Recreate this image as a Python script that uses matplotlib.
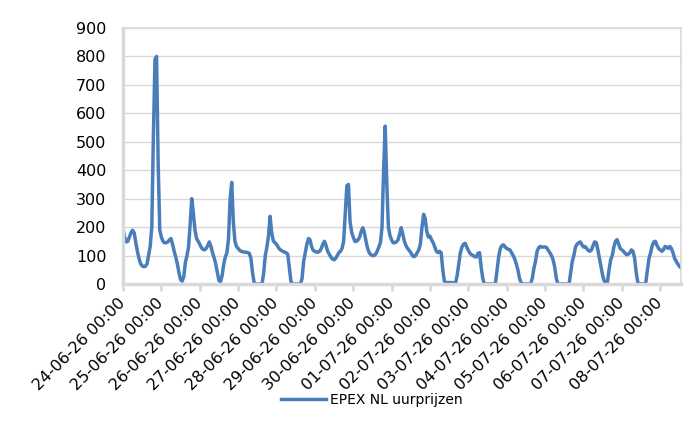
import numpy as np
import matplotlib
matplotlib.use("Agg")
import matplotlib.pyplot as plt

plt.rcParams['font.family'] = ['DejaVu Sans']

# hourly EPEX NL prices, one list per day (00:00 .. 23:00)
d_24_06 = [195, 165, 148, 150, 165, 180, 189, 180, 145, 115, 90, 72,
           63, 61, 62, 70, 100, 132, 200, 520, 790, 800, 420, 190]
d_25_06 = [165, 150, 145, 145, 148, 155, 160, 140, 115, 95, 70, 40,
           15, 10, 25, 75, 100, 130, 210, 300, 250, 190, 160, 150]
d_26_06 = [140, 128, 122, 120, 125, 135, 148, 132, 110, 92, 70, 40,
           12, 8, 30, 70, 95, 110, 160, 300, 357, 220, 150, 132]
d_27_06 = [125, 118, 115, 113, 112, 112, 110, 108, 90, 40, 5, 0,
           0, 0, 0, 0, 40, 100, 130, 170, 238, 180, 152, 145]
d_28_06 = [140, 130, 122, 118, 115, 112, 110, 105, 60, 10, 0, 0,
           0, 0, 0, 0, 20, 80, 110, 140, 160, 155, 130, 118]
d_29_06 = [115, 112, 112, 115, 125, 140, 150, 135, 115, 105, 95, 88,
           85, 90, 100, 110, 115, 125, 150, 250, 345, 350, 220, 182]
d_30_06 = [165, 150, 150, 155, 165, 185, 198, 180, 150, 125, 110, 103,
           100, 100, 105, 115, 130, 145, 200, 400, 555, 350, 200, 170]
d_01_07 = [155, 145, 145, 148, 155, 175, 198, 175, 150, 135, 125, 118,
           110, 100, 96, 100, 110, 120, 140, 200, 245, 230, 185, 165]
d_02_07 = [168, 155, 145, 130, 115, 110, 115, 110, 50, 10, 5, 5,
           5, 5, 5, 3, 3, 30, 70, 110, 130, 140, 143, 130]
d_03_07 = [118, 108, 103, 100, 96, 95, 108, 110, 60, 20, 0, 0,
           0, 0, 0, 0, 0, 5, 50, 97, 125, 135, 138, 130]
d_04_07 = [125, 122, 120, 110, 100, 88, 70, 50, 20, 5, 0, 0,
           0, 0, 0, 0, 20, 55, 80, 115, 128, 132, 130, 130]
d_05_07 = [130, 128, 118, 110, 100, 85, 60, 20, 0, 0, 0, 0,
           0, 0, 0, 0, 40, 80, 100, 130, 140, 145, 148, 138]
d_06_07 = [130, 132, 125, 118, 115, 120, 135, 148, 145, 120, 90, 60,
           30, 10, 5, 8, 50, 85, 100, 130, 150, 156, 140, 125]
d_07_07 = [120, 115, 108, 103, 105, 110, 120, 115, 90, 40, 5, 0,
           0, 0, 0, 5, 50, 90, 110, 135, 148, 150, 135, 125]
d_08_07 = [120, 115, 120, 132, 130, 125, 132, 125, 110, 90, 80, 70,
           62, 57]

days = ['24-06-26', '25-06-26', '26-06-26', '27-06-26', '28-06-26',
        '29-06-26', '30-06-26', '01-07-26', '02-07-26', '03-07-26',
        '04-07-26', '05-07-26', '06-07-26', '07-07-26', '08-07-26']

prices = np.array(d_24_06 + d_25_06 + d_26_06 + d_27_06 + d_28_06 + d_29_06
                  + d_30_06 + d_01_07 + d_02_07 + d_03_07 + d_04_07 + d_05_07
                  + d_06_07 + d_07_07 + d_08_07, dtype=float)
hours = np.arange(len(prices))

grey = '#D9D9D9'
fig = plt.figure(figsize=(7, 4.3), dpi=100)
ax = fig.add_axes([123 / 700, 1 - 284 / 430, (681 - 123) / 700, (284 - 28) / 430])

ax.plot(hours, prices, color='#4A7EBB', linewidth=2.5,
        solid_joinstyle='round', label='EPEX NL uurprijzen')

ax.set_xlim(0, len(prices) - 1)
ax.set_ylim(0, 900)
ax.set_yticks(np.arange(0, 901, 100))
ax.grid(axis='y', color=grey, linewidth=1)
ax.set_axisbelow(True)

ax.set_xticks(np.arange(len(days)) * 24)
ax.set_xticklabels([d + ' 00:00' for d in days], rotation=45, ha='right',
                   va='center', rotation_mode='anchor', fontsize=11.5)
ax.tick_params(axis='x', length=5, width=2, color=grey, pad=7)
ax.tick_params(axis='y', length=0, pad=12, labelsize=11.5)

for side in ['left', 'bottom']:
    ax.spines[side].set_color(grey)
    ax.spines[side].set_linewidth(2.5)
for side in ['top', 'right']:
    ax.spines[side].set_color(grey)
    ax.spines[side].set_linewidth(1.2)

fig.legend(loc='center', bbox_to_anchor=(372 / 700, 1 - 400 / 430),
           frameon=False, fontsize=10, handlelength=3.2, handletextpad=0.3)

fig.savefig('out.png', dpi=100, facecolor='white')
